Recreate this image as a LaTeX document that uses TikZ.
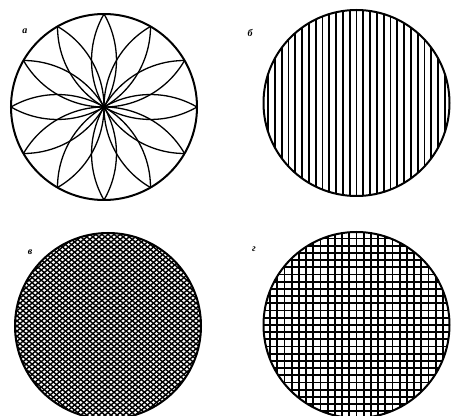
\documentclass[tikz,border=0pt]{standalone}
\usepackage{fontspec}
\setmainfont{Liberation Serif}
\begin{document}
\begin{tikzpicture}[x=1pt,y=1pt,
  rim/.style={line width=2pt},
  petal/.style={line width=1.3pt},
  vline/.style={line width=1.8pt},
  weave/.style={line width=1.4pt},
  gridline/.style={line width=1.8pt},
  lab/.style={font=\fontsize{10}{10}\selectfont\bfseries\itshape, inner sep=0pt}]
\useasboundingbox (0,0) rectangle (451,416);
\coordinate (ca) at (104,309);
\coordinate (cb) at (356.5,313);
\coordinate (cc) at (108,90);
\coordinate (cd) at (356.5,91);
% a: rosette
\begin{scope}
  \clip (ca) circle[radius=93];
  \foreach \t in {0,30,...,330}{
    \draw[petal] (ca) ++({\t+60}:93) arc[start angle={\t+120}, end angle={\t+240}, radius=93];
  }
\end{scope}
\fill (ca) circle[radius=2.8];
\draw[rim] (ca) circle[radius=93];
% b: vertical lines
\begin{scope}[shift={(cb)}]
  \clip (0,0) circle[radius=93];
  \foreach \i in {-14,...,14}{
    \draw[vline] ({\i*6.8},-96) -- ({\i*6.8},96);
  }
\end{scope}
\draw[rim] (cb) circle[radius=93];
% v: woven crosshatch
\begin{scope}[shift={(cc)}]
  \clip (0,0) circle[radius=93];
  \foreach \i in {-32,...,32}{
    \draw[weave, rotate=40] (-130,{\i*3.9}) -- (130,{\i*3.9});
    \draw[weave, rotate=-40] (-130,{\i*3.9}) -- (130,{\i*3.9});
  }
\end{scope}
\draw[rim] (cc) circle[radius=93];
% g: grid
\begin{scope}[shift={(cd)}]
  \clip (0,0) circle[radius=93];
  \foreach \i in {-13,...,13}{
    \draw[gridline] ({\i*7.2},-96) -- ({\i*7.2},96);
    \draw[gridline] (-96,{\i*7.2}) -- (96,{\i*7.2});
  }
\end{scope}
\draw[rim] (cd) circle[radius=93];
% labels
\node[lab] (la) at (25,385) {а};
\node[lab] (lb) at (250,383) {б};
\node[lab] (lc) at (30,164) {в};
\node[lab] (ld) at (254,167) {г};
\end{tikzpicture}
\end{document}
